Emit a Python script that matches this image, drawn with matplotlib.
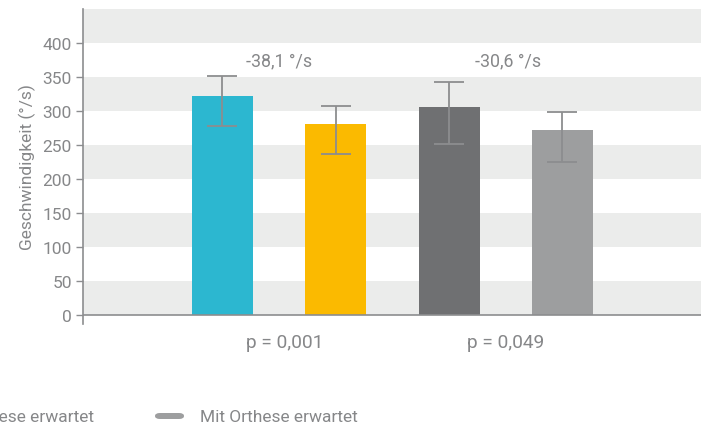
import matplotlib
matplotlib.use("Agg")
import matplotlib.pyplot as plt
from matplotlib.patches import FancyBboxPatch
import numpy as np

plt.rcParams['font.family'] = ['Roboto', 'DejaVu Sans']

# Mean angular velocity per condition, with lower/upper whisker ends
groups = ["Ohne Orthese unerwartet", "Mit Orthese unerwartet",
          "Ohne Orthese erwartet", "Mit Orthese erwartet"]
means = [322.4, 281.2, 306.2, 272.3]
err_low = [278.2, 236.5, 251.3, 225.7]
err_high = [351.3, 307.7, 342.5, 299.2]
colors = ["#2CB7D0", "#FBBA00", "#6F7072", "#9D9E9F"]

diff_labels = ["-38,1 °/s", "-30,6 °/s"]
p_labels = ["p = 0,001", "p = 0,049"]
yticks = [0, 50, 100, 150, 200, 250, 300, 350, 400]

text_col = "#868789"
axis_col = "#8C8D8F"
band_col = "#EBECEB"
weight = 'normal'

fig = plt.figure(figsize=(7.06, 4.27), dpi=100)
ax = fig.add_axes([83 / 706, (427 - 325) / 427, 618 / 706, 315 / 427])

x = np.arange(len(means))
ymin, ymax = -13.2, 450
ax.set_ylim(ymin, ymax)
ax.set_xlim(-1.231, 4.223)

# alternating horizontal bands
for lo in range(0, 450, 100):
    ax.axhspan(lo, lo + 50, color=band_col, zorder=0, lw=0)
ax.axhspan(400, 450, color=band_col, zorder=0, lw=0)

ax.bar(x, means, width=0.54, color=colors, zorder=2)
means_a = np.array(means)
yerr = np.vstack([means_a - np.array(err_low), np.array(err_high) - means_a])
ax.errorbar(x, means, yerr=yerr, fmt='none', ecolor=axis_col, elinewidth=1.3,
            capsize=10.8, capthick=1.3, zorder=3)

ax.axhline(0, color=axis_col, lw=1.2, zorder=4)

for s in ["top", "right", "bottom"]:
    ax.spines[s].set_visible(False)
ax.spines["left"].set_color(axis_col)
ax.spines["left"].set_linewidth(1.2)
ax.set_xticks([])
ax.set_yticks(yticks)
ax.set_yticklabels([str(v) for v in yticks])
ax.tick_params(axis='y', colors=axis_col, length=5, width=1.0, pad=3,
               labelsize=12.5, labelcolor=text_col)
for lbl in ax.get_yticklabels():
    lbl.set_fontweight(weight)
ax.set_ylabel("Geschwindigkeit (°/s)", color=text_col, fontsize=12.5,
              fontweight=weight, labelpad=5)

# differences between the paired bars
ax.text(0.5, 375, diff_labels[0], ha='center', va='center', color=text_col,
        fontsize=12.8, fontweight=weight)
ax.text(2.52, 375, diff_labels[1], ha='center', va='center', color=text_col,
        fontsize=12.8, fontweight=weight)

# significance below the axis
ax.text(0.55, -40, p_labels[0], ha='center', va='center', color=text_col,
        fontsize=13.8, fontweight=weight, clip_on=False)
ax.text(2.5, -40, p_labels[1], ha='center', va='center', color=text_col,
        fontsize=13.8, fontweight=weight, clip_on=False)

# legend row (starts beyond the left edge)
fig.text(94 / 706, 1 - 418 / 427, groups[2], ha='right', va='center',
         color=text_col, fontsize=12.5, fontweight=weight)
fig.patches.append(FancyBboxPatch((155 / 706, 1 - 420 / 427), 29 / 706, 6 / 427,
                                  boxstyle="round,pad=0,rounding_size=0.007",
                                  transform=fig.transFigure, color=colors[3],
                                  lw=0, figure=fig))
fig.text(200 / 706, 1 - 418 / 427, groups[3], ha='left', va='center',
         color=text_col, fontsize=12.5, fontweight=weight)

fig.savefig("out.png", dpi=100)
